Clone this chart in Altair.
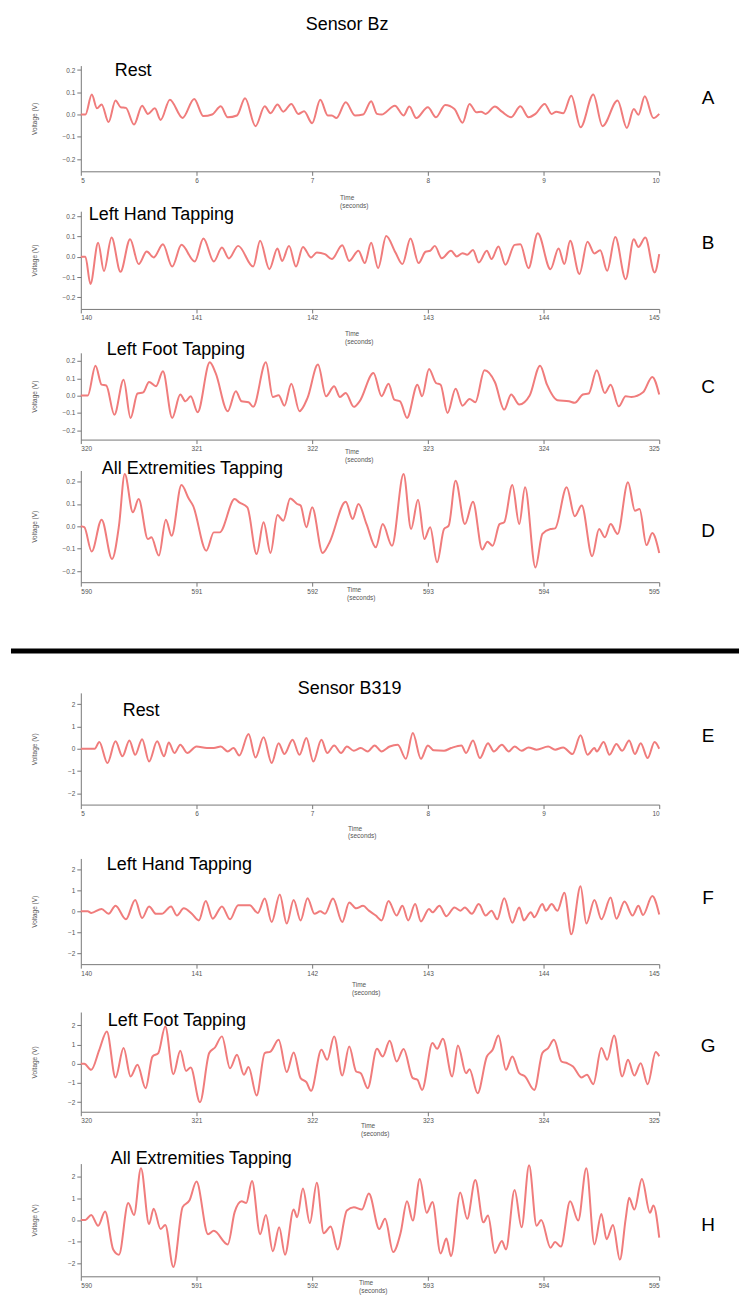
import altair as alt
import pandas as pd

FONT = "Liberation Sans"
LINE_COLOR = "#f07c7c"
AXIS_COLOR = "#777777"
LABEL_COLOR = "#555555"
PLOT_W = 580

# ---------------- data (time s, voltage V) ----------------
A_points = [(5.0, 0), (5.04, 0), (5.095, 0.09), (5.14, 0.028), (5.18, 0.045), (5.24, -0.034), (5.30, 0.063),
            (5.345, 0.033), (5.39, 0.03), (5.46, -0.045), (5.53, 0.04), (5.58, 0.003), (5.64, 0.028), (5.69, -0.024),
            (5.77, 0.067), (5.88, -0.015), (5.98, 0.07), (6.06, -0.007), (6.135, 0), (6.21, 0.037), (6.27, -0.012),
            (6.35, -0.004), (6.42, 0.073), (6.51, -0.052), (6.59, 0.037), (6.64, 0.006), (6.70, 0.045), (6.75, 0.013),
            (6.82, 0.048), (6.88, 0.003), (6.93, 0.015), (7.0, -0.039), (7.07, 0.066), (7.135, -0.004), (7.17, -0.004),
            (7.21, -0.016), (7.29, 0.055), (7.37, -0.004), (7.44, 0), (7.51, 0.06), (7.56, 0.003), (7.60, 0),
            (7.715, 0.04), (7.79, -0.004), (7.84, 0.036), (7.90, -0.016), (8.0, 0.033), (8.07, -0.012), (8.15, 0.043),
            (8.23, 0.025), (8.30, -0.037), (8.36, 0.048), (8.42, 0.01), (8.46, 0.013), (8.50, 0.003), (8.58, 0.036),
            (8.64, 0.013), (8.72, -0.012), (8.80, 0.037), (8.87, -0.012), (8.93, 0.003), (9.01, 0.048), (9.07, 0.003),
            (9.11, 0.013), (9.17, 0.006), (9.24, 0.085), (9.32, -0.057), (9.43, 0.09), (9.51, -0.052), (9.64, 0.063),
            (9.72, -0.06), (9.78, 0.025), (9.82, -0.001), (9.875, 0.082), (9.95, -0.016), (10.0, 0.003)]

B_points = [(140.0, 0), (140.04, 0), (140.083, -0.134), (140.15, 0.07), (140.2, -0.07), (140.266, 0.095),
            (140.343, -0.074), (140.426, 0.087), (140.50, -0.036), (140.57, 0.026), (140.63, -0.003), (140.71, 0.062),
            (140.79, -0.048), (140.87, 0.059), (140.985, -0.023), (141.06, 0.09), (141.15, -0.023), (141.22, 0.046),
            (141.28, -0.008), (141.36, 0.054), (141.49, -0.048), (141.55, 0.079), (141.63, -0.061), (141.70, 0.041),
            (141.74, -0.02), (141.80, 0.054), (141.86, -0.048), (141.92, 0.049), (141.99, -0.003), (142.04, 0.021),
            (142.11, 0.013), (142.17, -0.011), (142.26, 0.057), (142.32, -0.02), (142.40, 0.03), (142.455, -0.031),
            (142.51, 0.07), (142.57, -0.056), (142.64, 0.103), (142.72, 0.021), (142.78, -0.036), (142.85, 0.09),
            (142.92, -0.031), (142.98, 0.025), (143.02, 0.03), (143.06, 0.054), (143.12, -0.007), (143.20, 0.03),
            (143.25, 0.002), (143.30, 0.018), (143.34, 0.01), (143.39, 0.034), (143.44, -0.028), (143.51, 0.03),
            (143.55, -0.011), (143.61, 0.051), (143.67, -0.039), (143.75, 0.059), (143.80, 0.062), (143.87, -0.056),
            (143.95, 0.116), (144.06, -0.061), (144.13, 0.041), (144.18, -0.036), (144.23, 0.079), (144.31, -0.085),
            (144.38, 0.074), (144.44, 0.016), (144.49, 0.033), (144.55, -0.069), (144.62, 0.098), (144.71, -0.11),
            (144.78, 0.087), (144.82, 0.049), (144.88, 0.095), (144.96, -0.077), (145.0, 0.013)]

C_points = [(320.0, 0), (320.06, 0), (320.127, 0.173), (320.18, 0.063), (320.22, 0.058), (320.29, -0.11),
            (320.37, 0.092), (320.43, -0.129), (320.49, 0.012), (320.54, 0.019), (320.59, 0.079), (320.65, 0.054),
            (320.71, 0.14), (320.79, -0.129), (320.86, 0.006), (320.905, -0.033), (320.95, -0.004), (321.01, -0.096),
            (321.115, 0.192), (321.165, 0.131), (321.27, -0.09), (321.34, 0.025), (321.39, -0.033), (321.45, -0.038),
            (321.49, -0.065), (321.60, 0.192), (321.66, -0.008), (321.71, 0.002), (321.76, -0.058), (321.82, 0.069),
            (321.89, -0.09), (321.96, -0.013), (322.05, 0.179), (322.12, -0.004), (322.19, 0.054), (322.24, -0.008),
            (322.29, 0.015), (322.36, -0.065), (322.41, -0.033), (322.53, 0.131), (322.60, -0.004), (322.66, 0.069),
            (322.71, -0.023), (322.76, -0.033), (322.82, -0.129), (322.91, 0.063), (322.95, -0.004), (323.01, 0.154),
            (323.07, 0.073), (323.11, 0.063), (323.17, -0.1), (323.24, 0.04), (323.30, -0.058), (323.36, -0.019),
            (323.41, -0.038), (323.49, 0.146), (323.58, 0.077), (323.66, -0.081), (323.72, 0.006), (323.79, -0.052),
            (323.88, 0), (323.97, 0.173), (324.03, 0.063), (324.12, -0.027), (324.22, -0.033), (324.27, -0.042),
            (324.34, 0.006), (324.39, 0.012), (324.46, 0.146), (324.53, 0.015), (324.58, 0.063), (324.65, -0.062),
            (324.71, -0.004), (324.76, -0.008), (324.86, 0.019), (324.94, 0.108), (325.0, 0.006)]

D_points = [(590.0, 0), (590.03, -0.004), (590.094, -0.113), (590.18, 0.03), (590.27, -0.146), (590.33, 0.003),
            (590.38, 0.234), (590.45, 0.063), (590.50, 0.122), (590.58, -0.057), (590.61, -0.049), (590.675, -0.131),
            (590.735, 0.03), (590.785, -0.042), (590.87, 0.185), (590.935, 0.122), (590.97, 0.093), (591.085, -0.109),
            (591.15, -0.027), (591.20, -0.027), (591.33, 0.122), (591.37, 0.107), (591.44, 0.085), (591.52, -0.124),
            (591.58, 0.018), (591.64, -0.119), (591.70, 0.051), (591.75, 0.025), (591.81, 0.125), (591.87, 0.1),
            (591.90, 0.093), (591.95, -0.004), (592.0, 0.085), (592.09, -0.119), (592.15, -0.072), (592.29, 0.11),
            (592.35, 0.033), (592.40, 0.1), (592.47, 0.01), (592.55, -0.094), (592.61, 0.01), (592.69, -0.087),
            (592.79, 0.234), (592.855, -0.012), (592.915, 0.119), (592.97, -0.057), (593.02, -0.004), (593.08, -0.161),
            (593.14, -0.012), (593.18, 0.003), (593.24, 0.204), (593.32, 0.01), (593.39, 0.11), (593.47, -0.104),
            (593.515, -0.069), (593.56, -0.087), (593.62, 0.01), (593.66, 0.018), (593.73, 0.185), (593.79, 0.01),
            (593.84, 0.175), (593.93, -0.184), (593.99, -0.034), (594.06, -0.012), (594.10, -0.009), (594.20, 0.175),
            (594.27, 0.045), (594.33, 0.093), (594.42, -0.134), (594.48, -0.012), (594.53, -0.049), (594.58, 0.01),
            (594.64, -0.034), (594.73, 0.197), (594.79, 0.07), (594.83, 0.078), (594.89, -0.084), (594.94, -0.03),
            (595.0, -0.119)]

E_points = [(5.0, 0), (5.12, 0), (5.16, 0.3), (5.23, -0.64), (5.30, 0.33), (5.36, -0.34), (5.42, 0.37), (5.47, -0.27),
            (5.53, 0.43), (5.59, -0.57), (5.66, 0.33), (5.72, -0.34), (5.76, 0.28), (5.81, -0.19), (5.86, 0.18),
            (5.92, -0.19), (6.0, 0.1), (6.09, 0.03), (6.15, 0.03), (6.21, 0.1), (6.27, -0.12), (6.32, 0.03),
            (6.37, -0.3), (6.45, 0.66), (6.51, -0.39), (6.58, 0.51), (6.65, -0.64), (6.71, 0.25), (6.76, -0.24),
            (6.83, 0.4), (6.89, -0.27), (6.95, 0.48), (7.01, -0.57), (7.08, 0.4), (7.13, -0.19), (7.19, 0.15),
            (7.25, -0.19), (7.30, 0.1), (7.36, -0.09), (7.42, 0.03), (7.48, -0.12), (7.54, 0.15), (7.60, -0.12),
            (7.67, 0.1), (7.74, 0.18), (7.81, -0.45), (7.87, 0.7), (7.94, -0.45), (8.00, 0.15), (8.05, -0.07),
            (8.14, -0.09), (8.20, 0.03), (8.29, 0.15), (8.33, -0.19), (8.39, 0.37), (8.45, -0.42), (8.52, 0.25),
            (8.57, -0.12), (8.64, 0.18), (8.70, -0.12), (8.75, 0.1), (8.81, -0.09), (8.87, 0.06), (8.94, -0.04),
            (9.04, 0.1), (9.10, -0.04), (9.17, 0.06), (9.25, -0.24), (9.32, 0.6), (9.38, -0.27), (9.44, 0.03),
            (9.46, -0.12), (9.52, 0.3), (9.57, -0.27), (9.63, 0.21), (9.68, -0.09), (9.74, 0.37), (9.79, -0.24),
            (9.84, 0.25), (9.90, -0.42), (9.96, 0.3), (10.0, 0)]

F_points = [(140.0, 0), (140.06, 0), (140.09, -0.08), (140.18, 0.11), (140.24, -0.12), (140.30, 0.26), (140.39, -0.38),
            (140.47, 0.54), (140.53, -0.32), (140.59, 0.23), (140.65, -0.12), (140.70, -0.12), (140.78, 0.23),
            (140.83, -0.2), (140.89, 0.14), (140.96, -0.12), (141.02, -0.43), (141.08, 0.49), (141.14, -0.35),
            (141.22, 0.23), (141.29, -0.38), (141.36, 0.29), (141.46, 0.29), (141.53, -0.08), (141.59, 0.6),
            (141.65, -0.51), (141.72, 0.8), (141.78, -0.58), (141.84, 0.54), (141.90, -0.43), (141.96, 0.62),
            (142.02, -0.12), (142.07, 0), (142.11, -0.12), (142.18, 0.6), (142.26, -0.51), (142.32, 0.42),
            (142.38, 0.14), (142.44, 0.26), (142.49, 0.03), (142.55, -0.2), (142.60, -0.43), (142.66, 0.49),
            (142.73, -0.2), (142.78, 0.26), (142.83, -0.43), (142.89, 0.34), (142.94, -0.48), (143.01, 0.11),
            (143.04, -0.05), (143.10, 0.26), (143.16, -0.23), (143.23, 0.18), (143.28, 0.03), (143.32, 0.18),
            (143.38, -0.12), (143.44, 0.34), (143.50, -0.2), (143.55, 0.03), (143.60, -0.38), (143.66, 0.62),
            (143.73, -0.54), (143.79, 0.18), (143.83, -0.43), (143.89, -0.05), (143.92, -0.28), (143.99, 0.34),
            (144.02, 0.03), (144.07, 0.34), (144.12, 0.03), (144.18, 0.88), (144.24, -1.09), (144.32, 1.18),
            (144.37, -0.58), (144.44, 0.54), (144.50, -0.38), (144.58, 0.65), (144.63, -0.35), (144.70, 0.46),
            (144.77, -0.2), (144.82, 0.26), (144.86, -0.17), (144.94, 0.72), (145.0, -0.15)]

G_points = [(320.0, 0), (320.03, 0), (320.09, -0.31), (320.16, 0.73), (320.225, 1.69), (320.30, -0.71), (320.37, 0.82),
            (320.43, -0.66), (320.49, -0.05), (320.56, -1.27), (320.62, 0.38), (320.67, 0.56), (320.73, 1.95),
            (320.80, -0.54), (320.86, 0.68), (320.91, -0.37), (320.95, -0.19), (321.03, -2.0), (321.11, 0.56),
            (321.16, 0.85), (321.22, 1.43), (321.29, -0.23), (321.35, 0.47), (321.41, -0.57), (321.45, -0.17),
            (321.52, -1.65), (321.59, 0.56), (321.64, 0.64), (321.71, 1.25), (321.78, -0.43), (321.84, 0.59),
            (321.90, -0.75), (321.95, -0.96), (321.99, -1.41), (322.08, 0.73), (322.13, 0.21), (322.19, 1.43),
            (322.26, -0.61), (322.32, 0.9), (322.38, -0.4), (322.42, -0.49), (322.48, -1.27), (322.56, 0.78),
            (322.61, 0.38), (322.67, 1.2), (322.73, 0.12), (322.79, 0.77), (322.87, -0.75), (322.91, -0.83),
            (322.95, -1.36), (323.04, 1.08), (323.08, 0.78), (323.13, 1.3), (323.21, -0.66), (323.26, 0.96),
            (323.33, -0.49), (323.36, -0.28), (323.43, -1.53), (323.51, 0.38), (323.56, 0.73), (323.61, 1.48),
            (323.675, -0.31), (323.73, 0.38), (323.79, -0.49), (323.84, -0.66), (323.92, -1.36), (323.99, 0.56),
            (324.04, 0.82), (324.09, 1.25), (324.155, 0.12), (324.205, 0.03), (324.255, -0.14), (324.33, -0.71),
            (324.375, -0.57), (324.43, -1.06), (324.50, 0.82), (324.55, 0.21), (324.61, 1.48), (324.68, -0.66),
            (324.73, 0.21), (324.785, -0.61), (324.84, 0.03), (324.90, -1.06), (324.97, 0.61), (325.0, 0.4)]

H_points = [(590.0, 0), (590.04, 0), (590.09, 0.23), (590.15, -0.27), (590.21, 0.39), (590.28, -1.36), (590.33, -1.6),
            (590.41, 0.78), (590.46, 0.23), (590.52, 2.39), (590.59, -0.19), (590.63, 0.52), (590.69, -0.42),
            (590.73, -0.23), (590.80, -2.17), (590.88, 0.59), (590.94, 0.91), (591.00, 1.77), (591.10, -0.66),
            (591.15, -0.5), (591.27, -1.13), (591.33, 0.36), (591.39, 0.86), (591.43, 0.78), (591.48, 1.8),
            (591.55, -0.66), (591.60, 0.23), (591.66, -1.44), (591.715, -0.34), (591.765, -1.6), (591.84, 0.48),
            (591.87, 0.13), (591.92, 1.45), (591.98, -0.14), (592.04, 1.72), (592.10, -0.61), (592.16, -0.3),
            (592.22, -1.36), (592.30, 0.44), (592.36, 0.59), (592.43, 0.48), (592.49, 1.22), (592.58, -0.42),
            (592.63, 0.05), (592.70, -1.48), (592.765, -0.58), (592.82, 0.86), (592.87, -0.03), (592.93, 1.89),
            (592.99, 0.33), (593.04, 0.83), (593.11, -1.55), (593.16, -0.86), (593.20, -1.67), (593.28, 1.27),
            (593.34, 0.05), (593.41, 1.84), (593.48, -0.11), (593.52, 0.2), (593.58, -1.52), (593.64, -0.97),
            (593.675, -1.36), (593.75, 1.38), (593.81, -0.34), (593.875, 2.52), (593.94, -0.27), (593.98, 0),
            (594.06, -1.28), (594.10, -1.02), (594.15, -1.23), (594.23, 0.86), (594.30, -0.03), (594.37, 2.39),
            (594.44, -1.13), (594.50, 0.28), (594.545, -0.89), (594.60, -0.23), (594.66, -1.83), (594.71, 0.05),
            (594.74, 1.02), (594.785, 0.48), (594.85, 1.89), (594.92, 0.33), (594.95, 0.67), (595.0, -0.81)]

BZ_TICKS = [-0.2, -0.1, 0.0, 0.1, 0.2]
B319_TICKS = [-2, -1, 0, 1, 2]

# panel configuration
PANELS = [
    dict(pts=A_points, t0=5, dom=[-0.255, 0.22], ticks=BZ_TICKS, fmt=".1f", h=106, title="Rest", tp=(34, 5), letter="A", ly=33, tl=(260, 130)),
    dict(pts=B_points, t0=140, dom=[-0.257, 0.225], ticks=BZ_TICKS, fmt=".1f", h=98, title="Left Hand Tapping", tp=(8, 3.5), letter="B", ly=31.5, tl=(265, 120)),
    dict(pts=C_points, t0=320, dom=[-0.254, 0.247], ticks=BZ_TICKS, fmt=".1f", h=87, title="Left Foot Tapping", tp=(26, -3), letter="C", ly=34, tl=(265, 96)),
    dict(pts=D_points, t0=590, dom=[-0.25, 0.25], ticks=BZ_TICKS, fmt=".1f", h=112, title="All Extremities Tapping", tp=(21, -1), letter="D", ly=61, tl=(267, 117)),
    dict(pts=E_points, t0=5, dom=[-2.5, 2.5], ticks=B319_TICKS, fmt="d", h=112, title="Rest", tp=(42, 18), letter="E", ly=43, tl=(268, 133)),
    dict(pts=F_points, t0=140, dom=[-2.5, 2.5], ticks=B319_TICKS, fmt="d", h=106, title="Left Hand Tapping", tp=(26, 7), letter="F", ly=40, tl=(272, 124)),
    dict(pts=G_points, t0=320, dom=[-2.5, 2.7], ticks=B319_TICKS, fmt="d", h=100, title="Left Foot Tapping", tp=(27, 9), letter="G", ly=34, tl=(281, 111)),
    dict(pts=H_points, t0=590, dom=[-2.6, 2.6], ticks=B319_TICKS, fmt="d", h=113, title="All Extremities Tapping", tp=(30, -5), letter="H", ly=62, tl=(279, 117)),
]
GAPS = [39.5, 43.5, 31, 111, 54, 48, 52]


def one_row():
    return pd.DataFrame({"a": [0]})


def text_layer(text, x, y, size, align="left", baseline="middle", color="black"):
    return alt.Chart(one_row()).mark_text(
        text=text, fontSize=size, align=align, baseline=baseline, color=color, font=FONT
    ).encode(x=alt.value(x), y=alt.value(y))


def make_panel(p, extra=None):
    df = pd.DataFrame(p["pts"], columns=["t", "v"])
    t0 = p["t0"]
    line = alt.Chart(df).mark_line(
        color=LINE_COLOR, strokeWidth=2, interpolate="monotone"
    ).encode(
        x=alt.X("t:Q",
                scale=alt.Scale(domain=[t0, t0 + 5], nice=False, zero=False),
                axis=alt.Axis(values=list(range(t0, t0 + 6)), format="d", title=None, grid=False)),
        y=alt.Y("v:Q",
                scale=alt.Scale(domain=p["dom"], nice=False, zero=False),
                axis=alt.Axis(values=p["ticks"], format=p["fmt"], title="Voltage (V)", grid=False,
                              titleX=-46, titleY=p["h"] / 2, titleAngle=270,
                              titleAlign="center", titleBaseline="middle")),
    )
    layers = [
        line,
        text_layer(p["title"], p["tp"][0], p["tp"][1], 18),
        text_layer(p["letter"], 629, p["ly"], 19, align="center"),
        alt.Chart(one_row()).mark_text(
            text=["Time", "(seconds)"], fontSize=6.5, lineHeight=8, align="left",
            baseline="top", color=LABEL_COLOR, font=FONT
        ).encode(x=alt.value(p["tl"][0]), y=alt.value(p["tl"][1])),
    ]
    if extra:
        layers += extra
    return alt.layer(*layers).properties(width=PLOT_W, height=p["h"])


def make_spacer(h, extra=None):
    base = alt.Chart(one_row()).mark_point(opacity=0, size=1).encode(x=alt.value(0), y=alt.value(0))
    layers = [base] + (extra or [])
    return alt.layer(*layers).properties(width=PLOT_W, height=h)


anchor = alt.Chart(one_row()).mark_point(opacity=0, size=1).encode(x=alt.value(-70), y=alt.value(-55))

rows = []
for i, p in enumerate(PANELS):
    extra = None
    if i == 0:
        extra = [anchor, text_layer("Sensor Bz", 267, -41, 18, align="center")]
    rows.append(make_panel(p, extra))
    if i < len(GAPS):
        sp_extra = None
        if i == 3:
            sep = alt.Chart(one_row()).mark_rule(color="black", strokeWidth=5).encode(
                x=alt.value(-70), x2=alt.value(660), y=alt.value(69))
            sp_extra = [sep, text_layer("Sensor B319", 269.5, 107, 18, align="center")]
        rows.append(make_spacer(GAPS[i], sp_extra))

chart = alt.vconcat(*rows, spacing=0, bounds="flush").properties(
    padding=0
).configure(
    font=FONT
).configure_view(
    stroke=None
).configure_axis(
    domainColor=AXIS_COLOR, tickColor=AXIS_COLOR, labelColor=LABEL_COLOR,
    titleColor=LABEL_COLOR, labelFontSize=6.5, titleFontSize=6.5, titleFontWeight="normal",
    labelFont=FONT, titleFont=FONT, grid=False, tickSize=4, labelPadding=2,
    domainWidth=1, tickWidth=1
)

chart.save("out.html", embed_options={"renderer": "svg", "actions": False})
